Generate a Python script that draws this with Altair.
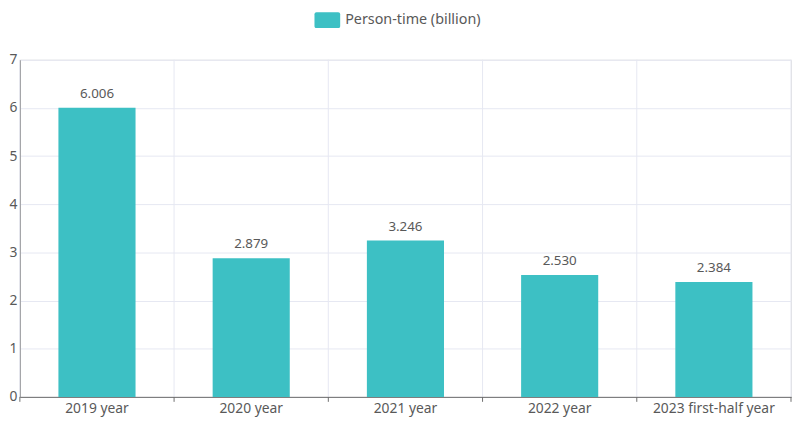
import altair as alt
import pandas as pd

categories = ["2019 year", "2020 year", "2021 year", "2022 year", "2023 first-half year"]
values = [6.006, 2.879, 3.246, 2.530, 2.384]
series_name = "Person-time (billion)"
y_ticks = [0, 1, 2, 3, 4, 5, 6, 7]

df = pd.DataFrame({"cat": categories, "val": values, "series": [series_name] * len(categories)})

W, H = 780, 341
FONT = "Noto Sans"
TEAL = "#3DC0C4"
GRID = "#E6E8F2"
TXT = "#595959"
AXIS = "#6E6E6E"

rounded = ("M-1.1,-0.8 H1.1 A0.2,0.2 0 0 1 1.3,-0.6 V0.6 A0.2,0.2 0 0 1 1.1,0.8 "
           "H-1.1 A0.2,0.2 0 0 1 -1.3,0.6 V-0.6 A0.2,0.2 0 0 1 -1.1,-0.8 Z")

base = alt.Chart(df)
band_scale = alt.Scale(paddingInner=0.5, paddingOuter=0.25)

x_bar = alt.X("cat:N", sort=categories, title=None, scale=band_scale,
              axis=alt.Axis(labelAngle=0, ticks=False, grid=False, domainColor=AXIS,
                            labelColor=TXT, labelFont=FONT, labelFontSize=14, labelPadding=5))
y_enc = alt.Y("val:Q", title=None,
              scale=alt.Scale(domain=[0, 7], nice=False),
              axis=alt.Axis(values=y_ticks, ticks=False, grid=True, gridColor=GRID,
                            domainColor=AXIS, labelColor=TXT, labelFont=FONT,
                            labelFontSize=14, labelPadding=3))

bars = base.mark_bar(color=TEAL).encode(
    x=x_bar,
    y=y_enc,
    color=alt.Color("series:N", title=None,
                    scale=alt.Scale(domain=[series_name], range=[TEAL]),
                    legend=alt.Legend(orient="none", legendX=301, legendY=-50,
                                      symbolType=rounded, symbolSize=400,
                                      symbolStrokeWidth=0, symbolOpacity=1,
                                      labelFont=FONT, labelFontSize=14.5, labelColor=TXT,
                                      labelOffset=8)),
)

labels = base.mark_text(baseline="bottom", dy=-7, font=FONT, fontSize=13.5, color=TXT).encode(
    x=alt.X("cat:N", sort=categories, scale=band_scale, axis=None),
    y=alt.Y("val:Q"),
    text=alt.Text("val:Q", format=".3f"),
)

x_edge = alt.X("cat:N", sort=categories, bandPosition=0, axis=None,
               scale=alt.Scale(paddingInner=0, paddingOuter=0))

vgrid = base.mark_rule(color=GRID, strokeWidth=1).encode(
    x=x_edge, y=alt.value(0), y2=alt.value(H))
vticks = base.mark_rule(color=AXIS, strokeWidth=1).encode(
    x=x_edge, y=alt.value(H), y2=alt.value(H + 5))
right_edge = alt.Chart(pd.DataFrame({"d": [0]})).mark_rule(color=GRID).encode(
    x=alt.value(W), y=alt.value(0), y2=alt.value(H))
right_tick = alt.Chart(pd.DataFrame({"d": [0]})).mark_rule(color=AXIS).encode(
    x=alt.value(W), y=alt.value(H), y2=alt.value(H + 5))

chart = alt.layer(vgrid, right_edge, bars, labels, vticks, right_tick).resolve_scale(
    x="independent"
).properties(
    width=W, height=H,
    padding={"left": 0, "top": 0, "right": 0, "bottom": 0},
).configure_view(stroke=None).configure(font=FONT)

chart.save("out.html", embed_options={"renderer": "svg", "actions": False})
